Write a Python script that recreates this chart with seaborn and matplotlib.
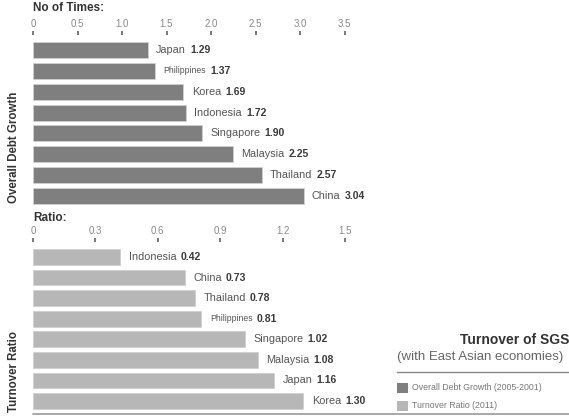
import matplotlib
matplotlib.use("Agg")
import matplotlib.pyplot as plt
import matplotlib.patches as mpatches
import matplotlib.lines as mlines
from matplotlib import font_manager
import seaborn as sns
import pandas as pd

# data
debt_countries = ["Japan", "Philippines", "Korea", "Indonesia", "Singapore", "Malaysia", "Thailand", "China"]
debt_values = [1.29, 1.37, 1.69, 1.72, 1.90, 2.25, 2.57, 3.04]
debt_ticks = [0, 0.5, 1.0, 1.5, 2.0, 2.5, 3.0, 3.5]
debt_ticklabels = ["0", "0.5", "1.0", "1.5", "2.0", "2.5", "3.0", "3.5"]

turn_countries = ["Indonesia", "China", "Thailand", "Philippines", "Singapore", "Malaysia", "Japan", "Korea"]
turn_values = [0.42, 0.73, 0.78, 0.81, 1.02, 1.08, 1.16, 1.30]
turn_ticks = [0, 0.3, 0.6, 0.9, 1.2, 1.5]
turn_ticklabels = ["0", "0.3", "0.6", "0.9", "1.2", "1.5"]

dark = "#7f7f7f"
light = "#b7b7b7"

# narrow font if available, otherwise Liberation Sans
try:
    font_manager.findfont("Liberation Sans Narrow", fallback_to_default=False)
    has_narrow = True
except Exception:
    has_narrow = False
narrow = ["Liberation Sans Narrow", "DejaVu Sans"] if has_narrow else ["Liberation Sans", "DejaVu Sans"]
ylab_size = 9 if has_narrow else 8.3

sns.set_style("white")
plt.rcParams["font.family"] = ["Liberation Sans", "DejaVu Sans"]

W, H = 569, 417
fig = plt.figure(figsize=(W / 100, H / 100), dpi=100)


def px_axes(x0, y0, x1, y1):
    return fig.add_axes([x0 / W, 1 - y1 / H, (x1 - x0) / W, (y1 - y0) / H])


def draw_panel(ax, countries, values, color, ticks, ticklabels, xmax):
    df = pd.DataFrame({"country": countries, "value": values})
    sns.barplot(data=df, x="value", y="country", orient="h", color=color,
                width=0.77, edgecolor="#d0d0d0", linewidth=0.6,
                saturation=1, ax=ax)
    ax.set_xlim(0, xmax)
    ax.set_ylim(len(countries) - 0.5, -0.5)
    ax.set_xlabel("")
    ax.set_ylabel("")
    ax.set_yticks([])
    for s in ax.spines.values():
        s.set_visible(False)
    ax.spines["top"].set_position(("outward", 3.6))
    ax.xaxis.tick_top()
    ax.set_xticks(ticks)
    ax.set_xticklabels(ticklabels, family=narrow, fontsize=7, color="#8a8a8a")
    ax.tick_params(axis="x", length=2.8, width=1.1, color="#555555", pad=1.5)
    for i, (c, v) in enumerate(zip(countries, values)):
        fs = 6.2 if c == "Philippines" else 7.8
        t = ax.annotate(c, xy=(v, i), xytext=(6, 0), textcoords="offset points",
                        va="center", ha="left", fontsize=fs, color="#555555",
                        family=narrow)
        ax.annotate(f"{v:.2f}", xy=(1, 0.5), xycoords=t, xytext=(3, 0),
                    textcoords="offset points", va="center", ha="left",
                    fontsize=7.5, fontweight="bold", color="#3a3a3a")


# top panel: overall debt growth
ax1 = px_axes(33, 39.6, W, 206.4)
draw_panel(ax1, debt_countries, debt_values, dark, debt_ticks, debt_ticklabels, (W - 33) / 89.0)

# bottom panel: turnover ratio
ax2 = px_axes(33, 246.7, W, 411.3)
draw_panel(ax2, turn_countries, turn_values, light, turn_ticks, turn_ticklabels, (W - 33) / 208.0)

# headings
fig.text(33 / W, 1 - 8 / H, "No of Times:", fontsize=8.5, fontweight="bold",
         color="#333333", va="center", ha="left")
fig.text(33 / W, 1 - 218 / H, "Ratio:", fontsize=8.5, fontweight="bold",
         color="#333333", va="center", ha="left")

fig.text(14 / W, 1 - 147 / H, "Overall Debt Growth", rotation=90, fontsize=ylab_size,
         fontweight="bold", family=narrow, color="#333333", va="center", ha="center")
fig.text(14 / W, 1 - 371 / H, "Turnover Ratio", rotation=90, fontsize=ylab_size,
         fontweight="bold", family=narrow, color="#333333", va="center", ha="center")

# bottom rule
fig.add_artist(mlines.Line2D([33 / W, 1], [1 - 414 / H, 1 - 414 / H],
                             color="#999999", linewidth=1.2))

# legend block
fig.text(1.0, 1 - 340 / H, "Turnover of SGS", fontsize=10, fontweight="bold",
         color="#333333", va="center", ha="right")
fig.text(397 / W, 1 - 357 / H, "(with East Asian economies)", fontsize=9.5,
         color="#666666", va="center", ha="left")
fig.add_artist(mlines.Line2D([397 / W, 1], [1 - 372 / H, 1 - 372 / H],
                             color="#888888", linewidth=1))
for y, col, lab in [(388, dark, "Overall Debt Growth (2005-2001)"),
                    (406, light, "Turnover Ratio (2011)")]:
    fig.add_artist(mpatches.Rectangle((397 / W, 1 - (y + 5) / H), 11 / W, 10 / H,
                                      facecolor=col, edgecolor="none"))
    fig.text(412 / W, 1 - y / H, lab, fontsize=6.3, color="#777777",
             va="center", ha="left", family=narrow)

fig.savefig("out.png", dpi=100)
